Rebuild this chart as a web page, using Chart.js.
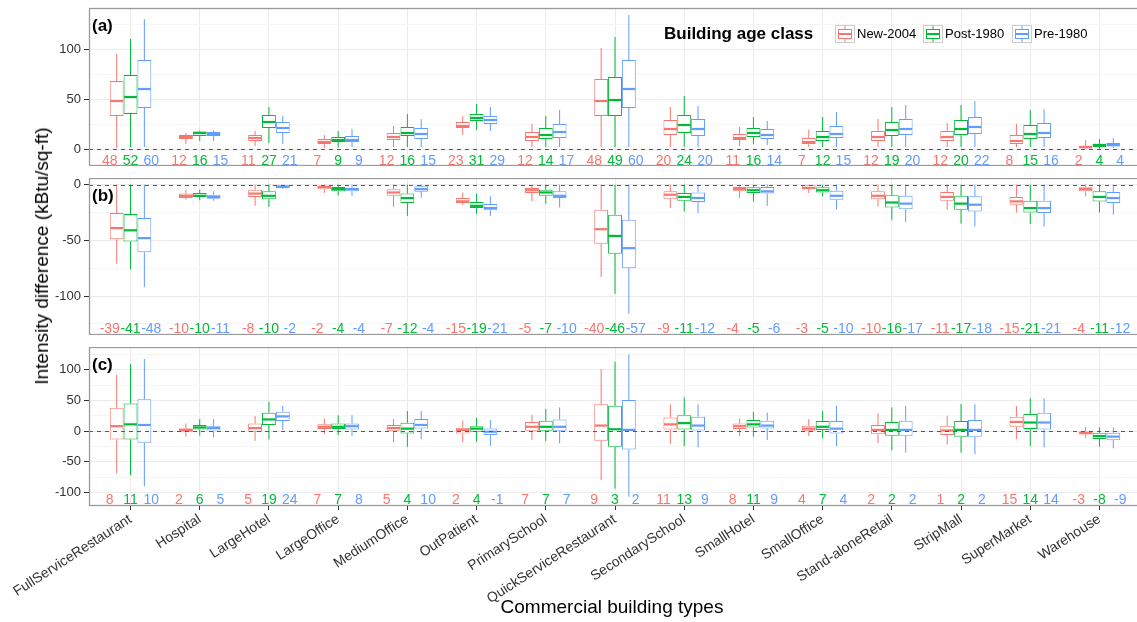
<!DOCTYPE html>
<html>
<head>
<meta charset="utf-8">
<script src="https://cdn.jsdelivr.net/npm/chart.js@4/dist/chart.umd.min.js"></script>
<style>
  html, body { margin: 0; padding: 0; background: #ffffff; width: 1137px; height: 622px; overflow: hidden; }
  canvas { position: absolute; left: 0; display: block; }
  .axis-title { position: absolute; font-family: "Liberation Sans", Arial, sans-serif; font-size: 19px; color: #000; white-space: nowrap; }
  #ytitle { left: 42px; top: 256px; transform: translate(-50%, -50%) rotate(-90deg); }
  #xtitle { left: 612px; top: 607px; transform: translate(-50%, -50%); }
</style>
</head>
<body>
<canvas id="panelA" width="1141" height="166" style="top:0px"></canvas>
<canvas id="panelB" width="1141" height="157" style="top:178px"></canvas>
<canvas id="panelC" width="1141" height="275" style="top:347px"></canvas>
<div id="ytitle" class="axis-title">Intensity difference (kBtu/sq-ft)</div>
<div id="xtitle" class="axis-title">Commercial building types</div>
<script>
// Building types along the x axis
const categories = ['FullServiceRestaurant', 'Hospital', 'LargeHotel', 'LargeOffice', 'MediumOffice',
  'OutPatient', 'PrimarySchool', 'QuickServiceRestaurant', 'SecondarySchool', 'SmallHotel',
  'SmallOffice', 'Stand-aloneRetail', 'StripMall', 'SuperMarket', 'Warehouse'];
const ageClasses = ['New-2004', 'Post-1980', 'Pre-1980'];
const ageColors = ['#F8766D', '#00BA38', '#619CFF'];

// Box statistics per building type: [lower whisker, Q1, median, Q3, upper whisker]
// Panel (a)
const aNew = [[1,33,48,68,95],[5,10,12,14,16],[3,8,11,14,18],[1,5,7,10,14],[2,9,12,16,23],
  [14,21,23,27,33],[2,8,12,17,25],[2,33,48,70,101],[2,14,20,29,42],[3,9,11,15,22],
  [2,5,7,11,19],[2,8,12,18,30],[2,8,12,18,26],[2,5,8,14,25],[0,0.5,2,3.3,9]];
const aPost = [[2,35,52,74,110],[8,13,16,17.5,18.5],[6,21,27,34,42],[1.5,7,9,12,18],[2,13,16,22,35],
  [19,28,31,35,45],[2,10,14,21,33],[2,33,49,72,112],[2,16,24,34,53],[5,12,16,21,32],
  [2,8,12,18,32],[2,13,19,27,42],[2,14,20,29,44],[2,10,15,24,39],[0.3,2,4,5.3,10]];
const aPre = [[2,41,60,89,130],[8,13,15,17,18.5],[5,16,21,27,33],[2,7,9,13,20],[2,10,15,21,30],
  [18,25,29,33,42],[2,11,17,25,39],[2,41,60,89,134],[2,13,20,30,43],[4,10,14,20,28],
  [2,11,15,23,37],[2,14,20,30,44],[2,15,22,32,48],[2,11,16,26,40],[1,2.6,4,6,11]];
// Panel (b)
const bNew = [[-71,-49,-39,-25.5,0],[-13.5,-12,-10,-8,-4.5],[-19,-11,-8,-4.5,0],[-7.5,-4,-2,-1,0],[-20,-10,-7,-4,0],
  [-18.3,-16.5,-15,-12,-7],[-15,-7.5,-5,-3,0],[-83,-53,-40,-22.5,0],[-21,-12.6,-9,-6,0],[-12,-5.4,-4,-2,0],
  [-7.5,-4,-3,-0.6,0],[-19.5,-13,-10,-6,0],[-22.5,-14.4,-11,-6.6,0],[-25,-18,-15,-11,0],[-10.5,-6,-4,-2.4,0]];
const bPost = [[-76,-51,-41,-26.4,0],[-14,-11,-10,-7.5,-4.5],[-20,-13,-10,-6,0],[-9.6,-6,-4,-2,0],[-28,-16.5,-12,-8,0],
  [-26.4,-21,-19,-15.6,-8],[-17,-10,-7,-4.5,0],[-98,-62,-46,-27,0],[-24,-14.4,-11,-7.5,0],[-15,-7.5,-5,-2.4,0],
  [-10.5,-7,-5,-2.4,0],[-31.5,-20.4,-16,-9.6,0],[-35,-22.5,-17,-10,0],[-35.4,-25,-21,-14.4,0],[-25,-15,-11,-6,0]];
const bPre = [[-92,-60.6,-48,-30,0],[-14.4,-12.6,-11,-9,-6],[-4,-3,-2,-0.6,0],[-10,-6,-4,-3,0],[-12,-6.3,-4,-1.5,0],
  [-28,-23,-21,-17.4,-10.5],[-20.4,-12,-10,-6,0],[-116,-75,-57,-31.5,0],[-25.5,-15.6,-12,-7,0],[-19,-8,-6,-2,0],
  [-22.5,-13.5,-10,-5.4,0],[-33.6,-22,-17,-10,0],[-37.5,-24,-18,-10.5,0],[-37.5,-25.5,-21,-14.4,0],[-27,-16.5,-12,-6.6,0]];
// Panel (c)
const cNew = [[-69,-13.6,8,38,91.5],[-9,-2,2,4.4,12.5],[-15.8,-1,5,12.5,24.5],[-5,3.3,7,11,20.7],[-18.5,0.5,5,9.8,19.6],
  [-18.5,-3.8,2,5.4,17],[-14.7,0.5,7,15,26],[-80,-15.8,9,43.6,100.8],[-21,2.7,11,22.3,43.6],[-8,3.3,8,12.5,20.7],
  [-8,0.5,4,8.7,19.6],[-20,-5,2,9.8,29],[-21.8,-6.5,1,8.7,25],[-13,7,15,23.4,40.8],[-11,-5.4,-3,0,7]];
const cPost = [[-72,-13.6,11,45,109],[-7.6,2.7,6,9.8,19.6],[-13.6,9.8,19,30,48],[-6.5,3.3,7,12.5,25.6],[-25.6,-3.8,4,13.6,32.7],
  [-17.4,-1,4,8,21.8],[-16.3,0.5,7,17,36],[-93.7,-25.6,3,41.4,113],[-24.5,2.7,13,26,55],[-9,6,11,18,31.6],
  [-12,1.6,7,16.3,33],[-31,-7.6,2,15,38.7],[-35,-9.3,2,16.3,44],[-24.5,3.3,14,27.8,53.4],[-25.6,-13,-8,-2.7,6]];
const cPre = [[-90,-19,10,51.7,117.6],[-10.3,0,5,8,19.6],[1.6,16.3,24,31.6,40.8],[-8,2.7,8,12.5,25.6],[-13,4.4,10,19.6,32.7],
  [-24,-6.5,-1,4.4,18],[-20,0.5,7,19,38.7],[-107,-30,2,50.7,125],[-26.7,0,9,23.4,43.6],[-14.7,4.4,9,17,30],
  [-24.5,-3.8,4,16.3,41.4],[-35,-7.6,2,17,41.4],[-37.6,-9.3,2,18,43.6],[-26.7,2.7,14,30,53.4],[-28,-14.7,-9,-2.7,6]];

// Axis limits and labelled ticks of each panel
const yLimitsA = [-17, 141], yTicksA = [0, 50, 100];
const yLimitsB = [-135, 6], yTicksB = [-100, -50, 0];
const yLimitsC = [-122, 137], yTicksC = [-100, -50, 0, 50, 100];
// Value at which the median labels are written in each panel
const labelRowA = -11, labelRowB = -129, labelRowC = -111;
// Horizontal spread of the median labels, in category units
const labelDodge = 0.3;

const FONT = '"Liberation Sans", Arial, sans-serif';

// Whiskers, medians, median labels, zero line, frame and panel tag
const boxDecor = {
  id: 'boxDecor',
  afterDatasetsDraw(chart) {
    const ctx = chart.ctx;
    const y = chart.scales.y;
    const xs = chart.scales.x;
    const area = chart.chartArea;
    const cfg = chart.options.plugins.boxDecor;
    ctx.save();
    ctx.beginPath();
    ctx.rect(area.left, area.top, area.right - area.left, area.bottom - area.top);
    ctx.clip();
    chart.data.datasets.forEach((ds, k) => {
      const meta = chart.getDatasetMeta(k);
      meta.data.forEach((bar, j) => {
        const s = ds.stats[j];
        const x = bar.x, half = bar.width / 2;
        ctx.strokeStyle = ds.borderColor;
        ctx.lineWidth = 1;
        ctx.beginPath();
        ctx.moveTo(x, y.getPixelForValue(s[4]));
        ctx.lineTo(x, y.getPixelForValue(s[3]));
        ctx.moveTo(x, y.getPixelForValue(s[1]));
        ctx.lineTo(x, y.getPixelForValue(s[0]));
        ctx.stroke();
        ctx.lineWidth = 2.2;
        ctx.beginPath();
        const ym = y.getPixelForValue(s[2]);
        ctx.moveTo(x - half + 0.5, ym);
        ctx.lineTo(x + half - 0.5, ym);
        ctx.stroke();
        ctx.fillStyle = ds.borderColor;
        ctx.font = '14px ' + FONT;
        ctx.textAlign = 'center';
        ctx.textBaseline = 'middle';
        const lx = xs.getPixelForValue(j + 1 + (k - 1) * labelDodge);
        ctx.fillText(String(s[2]), lx, y.getPixelForValue(cfg.labelRow) + 1);
      });
    });
    // dashed reference line at zero
    const y0 = Math.round(y.getPixelForValue(0)) + 0.5;
    ctx.strokeStyle = '#5a5a5a';
    ctx.lineWidth = 1;
    ctx.setLineDash([4, 4]);
    ctx.beginPath();
    ctx.moveTo(area.left, y0);
    ctx.lineTo(area.right, y0);
    ctx.stroke();
    ctx.setLineDash([]);
    ctx.restore();

    ctx.save();
    ctx.strokeStyle = '#9a9a9a';
    ctx.lineWidth = 1.3;
    ctx.strokeRect(area.left + 0.5, area.top + 0.5, area.right - area.left - 1, area.bottom - area.top - 1);
    ctx.fillStyle = '#000';
    ctx.font = 'bold 17px ' + FONT;
    ctx.textAlign = 'left';
    ctx.textBaseline = 'middle';
    ctx.fillText(cfg.tag, area.left + 3, area.top + 18);
    ctx.restore();
  }
};

// Legend of age classes, drawn inside the top panel
const ageLegend = {
  id: 'ageLegend',
  afterDraw(chart) {
    const opts = chart.options.plugins.ageLegend;
    if (!opts || !opts.show) return;
    const ctx = chart.ctx;
    ctx.save();
    ctx.fillStyle = '#000';
    ctx.font = 'bold 17px ' + FONT;
    ctx.textAlign = 'left';
    ctx.textBaseline = 'middle';
    ctx.fillText('Building age class', 664, 34);
    const keyX = [835, 923, 1012];
    ageClasses.forEach((name, k) => {
      const kx = keyX[k], ky = 25;
      ctx.fillStyle = '#ffffff';
      ctx.fillRect(kx, ky, 19, 17);
      ctx.strokeStyle = '#cccccc';
      ctx.lineWidth = 1;
      ctx.strokeRect(kx + 0.5, ky + 0.5, 19, 17);
      ctx.strokeStyle = ageColors[k];
      ctx.beginPath();
      ctx.moveTo(kx + 10, ky + 1);
      ctx.lineTo(kx + 10, ky + 17);
      ctx.stroke();
      ctx.fillStyle = '#ffffff';
      ctx.fillRect(kx + 3, ky + 4, 14, 10);
      ctx.strokeRect(kx + 3.5, ky + 4.5, 13, 9);
      ctx.lineWidth = 2;
      ctx.beginPath();
      ctx.moveTo(kx + 3.5, ky + 9);
      ctx.lineTo(kx + 16.5, ky + 9);
      ctx.stroke();
      ctx.fillStyle = '#000';
      ctx.font = '13px ' + FONT;
      ctx.fillText(name, kx + 22, 34);
    });
    ctx.restore();
  }
};

function makePanel(id, series, limits, labelled, labelRow, tag, opts) {
  const showX = !!opts.showX;
  return new Chart(document.getElementById(id), {
    type: 'bar',
    data: {
      datasets: series.map((s, k) => ({
        label: ageClasses[k],
        stats: s,
        data: s.map((v, j) => ({ x: j + 1, y: [v[1], v[3]] })),
        backgroundColor: '#ffffff',
        borderColor: ageColors[k],
        borderWidth: 1,
        borderSkipped: false,
        categoryPercentage: 0.6,
        barPercentage: 1.0
      }))
    },
    options: {
      responsive: false,
      animation: false,
      events: [],
      layout: { padding: { top: opts.padTop || 0, left: 0, right: 0, bottom: 0 } },
      plugins: {
        legend: { display: false },
        tooltip: { enabled: false },
        boxDecor: { labelRow: labelRow, tag: tag },
        ageLegend: { show: !!opts.legend }
      },
      scales: {
        x: {
          type: 'linear',
          offset: false,
          min: 0.4,
          max: categories.length + 0.6,
          afterBuildTicks: s => { s.ticks = categories.map((c, i) => ({ value: i + 1 })); },
          afterFit: s => {
            s.height = showX ? 116 : 0;
            s.paddingLeft = 0; s.paddingRight = 0; s.paddingTop = 0; s.paddingBottom = 0;
          },
          border: { display: false },
          grid: {
            offset: false,
            color: '#ebebeb',
            lineWidth: 1,
            drawTicks: showX,
            tickLength: 4,
            tickColor: '#333333'
          },
          ticks: {
            display: showX,
            autoSkip: false,
            minRotation: 33,
            maxRotation: 33,
            padding: 1,
            color: '#333333',
            font: { family: FONT, size: 14 },
            callback: v => categories[Math.round(v) - 1] || ''
          }
        },
        y: {
          type: 'linear',
          position: 'left',
          min: limits[0],
          max: limits[1],
          afterBuildTicks: s => {
            const t = [];
            for (let v = Math.ceil(limits[0] / 25) * 25; v <= limits[1]; v += 25) t.push({ value: v });
            s.ticks = t;
          },
          afterFit: s => {
            s.width = 89;
            s.paddingTop = 0; s.paddingBottom = 0; s.paddingLeft = 0; s.paddingRight = 0;
          },
          border: { display: false },
          grid: {
            color: c => (c.tick && labelled.includes(c.tick.value)) ? '#ebebeb' : '#f5f5f5',
            lineWidth: 1,
            drawTicks: true,
            tickLength: 5,
            tickColor: c => (c.tick && labelled.includes(c.tick.value)) ? '#333333' : 'rgba(0,0,0,0)'
          },
          ticks: {
            autoSkip: false,
            padding: 3,
            color: '#333333',
            font: { family: FONT, size: 13 },
            callback: v => labelled.includes(v) ? String(v) : ''
          }
        }
      }
    },
    plugins: [boxDecor, ageLegend]
  });
}

makePanel('panelA', [aNew, aPost, aPre], yLimitsA, yTicksA, labelRowA, '(a)', { padTop: 8, legend: true });
makePanel('panelB', [bNew, bPost, bPre], yLimitsB, yTicksB, labelRowB, '(b)', {});
makePanel('panelC', [cNew, cPost, cPre], yLimitsC, yTicksC, labelRowC, '(c)', { showX: true });
</script>
</body>
</html>
